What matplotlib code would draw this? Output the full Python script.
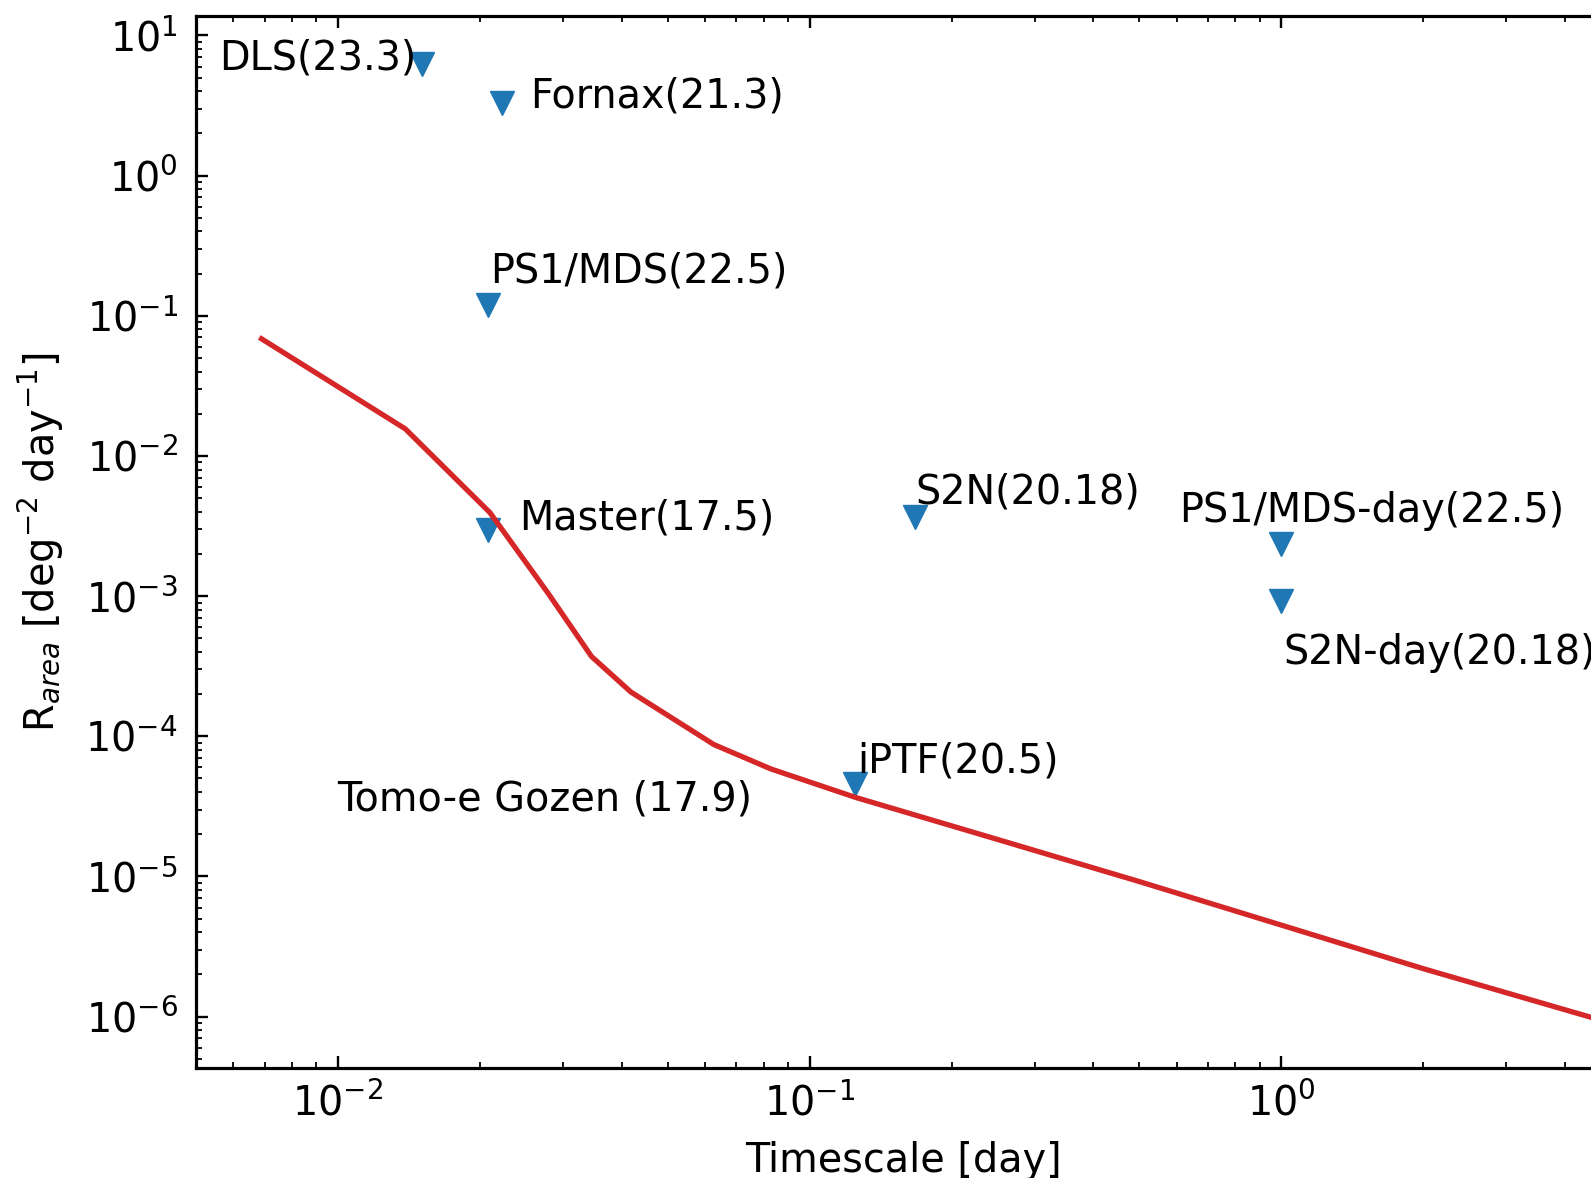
import numpy as np
import matplotlib
matplotlib.use("Agg")
import matplotlib.pyplot as plt
from matplotlib.ticker import LogLocator, NullFormatter

# ---- data ----
survey_labels = ['DLS(23.3)', 'Fornax(21.3)', 'PS1/MDS(22.5)', 'Master(17.5)',
                 'S2N(20.18)', 'PS1/MDS-day(22.5)', 'S2N-day(20.18)', 'iPTF(20.5)']
survey_timescale = [0.0151, 0.0223, 0.0208, 0.0208, 0.167, 1.0, 1.0, 0.125]
survey_rate = [6.27, 3.28, 0.119, 0.00297, 0.00368, 0.00237, 0.000925, 4.55e-5]

# label anchor positions (left, baseline)
label_x = [0.00561, 0.0256, 0.0210, 0.0242, 0.168, 0.6075, 1.013, 0.1262]
label_y = [5.74, 3.08, 0.1726, 0.00297, 0.0046, 0.0034, 3.29e-4, 5.5e-5]

tomoe_label = 'Tomo-e Gozen (17.9)'
tomoe_label_pos = (0.00998, 2.96e-5)
tomoe_timescale = [0.00689, 0.0139, 0.0210, 0.0279, 0.0345, 0.0418, 0.0627,
                   0.0828, 0.125, 0.25, 0.5, 1.0, 2.0, 5.0]
tomoe_rate = [0.0685, 0.0156, 0.00395, 1.05e-3, 3.71e-4, 2.07e-4, 8.73e-5,
              5.85e-5, 3.67e-5, 1.84e-5, 9.2e-6, 4.5e-6, 2.2e-6, 9.0e-7]

FS = 28.6

fig = plt.figure(figsize=(15.91, 11.78), dpi=100)
ax = fig.add_axes([0.1231, 0.0930, 1.0125 - 0.1231, 0.9862 - 0.0930])

ax.plot(tomoe_timescale, tomoe_rate, color='#d62728', lw=3.8, zorder=3)
ax.plot(survey_timescale, survey_rate, linestyle='none', marker='v',
        color='#1f77b4', markersize=17.5, zorder=2)

for s, x, y in zip(survey_labels, label_x, label_y):
    ax.text(x, y, s, fontsize=FS, ha='left', va='baseline')
ax.text(tomoe_label_pos[0], tomoe_label_pos[1], tomoe_label, fontsize=FS,
        ha='left', va='baseline')

ax.set_xscale('log')
ax.set_yscale('log')
ax.set_xlim(0.005, 5)
ax.set_ylim(4.27e-7, 13.7)

ax.xaxis.set_major_locator(LogLocator(base=10, numticks=100))
ax.xaxis.set_minor_locator(LogLocator(base=10, subs=np.arange(2, 10), numticks=100))
ax.yaxis.set_major_locator(LogLocator(base=10, numticks=100))
ax.yaxis.set_minor_locator(LogLocator(base=10, subs=np.arange(2, 10), numticks=100))
ax.xaxis.set_minor_formatter(NullFormatter())
ax.yaxis.set_minor_formatter(NullFormatter())

ax.tick_params(which='both', direction='in', top=True, right=True, labelsize=FS)
ax.tick_params(axis='x', which='major', length=8.5, width=1.7, pad=11)
ax.tick_params(axis='y', which='major', length=8.5, width=1.7, pad=13)
ax.tick_params(which='minor', length=4.5, width=1.3)
for sp in ax.spines.values():
    sp.set_linewidth(2.3)

ax.set_xlabel('Timescale [day]', fontsize=FS, labelpad=12)
ax.set_ylabel(r'R$_{area}$ [deg$^{-2}$ day$^{-1}$]', fontsize=FS, labelpad=14)

fig.savefig('out.png', dpi=100)
